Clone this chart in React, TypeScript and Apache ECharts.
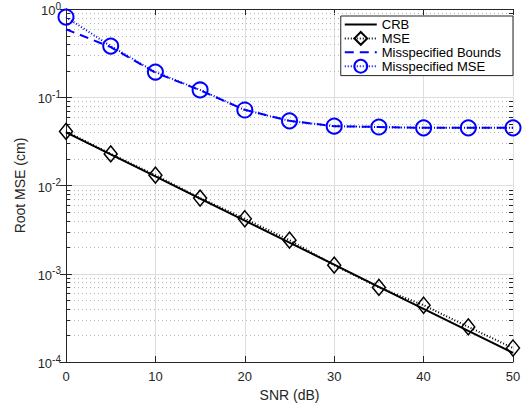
import React, { useEffect, useRef } from "react";
import * as echarts from "echarts";

const snr = [0, 5, 10, 15, 20, 25, 30, 35, 40, 45, 50];
const crb = [0.040, 0.0225, 0.0127, 0.0071, 0.0040, 0.00225, 0.00127, 0.00071, 0.00040, 0.000225, 0.000127];
const mse = [0.041, 0.0228, 0.0131, 0.0072, 0.0042, 0.0024, 0.00125, 0.0007, 0.00044, 0.00025, 0.000144];
const misBounds = [0.59, 0.37, 0.19, 0.12, 0.072, 0.054, 0.047, 0.046, 0.045, 0.045, 0.045];
const misMse = [0.81, 0.38, 0.193, 0.121, 0.0717, 0.054, 0.047, 0.046, 0.045, 0.045, 0.045];
const seriesNames = ["CRB", "MSE", "Misspecified Bounds", "Misspecified MSE"];
const minorValues: number[] = [];
for (const d of [1e-4, 1e-3, 1e-2, 1e-1]) {
  for (let k = 2; k <= 9; k++) minorValues.push(+(k * d).toPrecision(3));
}

const FONT = "Liberation Sans";
const AX = "#262626";

export default function App() {
  const ref = useRef<HTMLDivElement>(null);
  useEffect(() => {
    document.body.style.margin = "0";
    const chart = echarts.init(ref.current!, null, { renderer: "svg" });
    const pts = (ys: number[]) => snr.map((x, i) => [x, ys[i]]);
    const expFmt = (v: number) => `{b|10}{s|${Math.round(Math.log10(v))}}`;
    const hideSym = { itemStyle: { opacity: 0 } };
    chart.setOption({
      animation: false,
      backgroundColor: "#fff",
      textStyle: { fontFamily: FONT },
      grid: { left: 66, right: 13, top: 9, bottom: 45 },
      legend: {
        data: [
          { name: seriesNames[0], ...hideSym },
          { name: seriesNames[1] },
          { name: seriesNames[2], ...hideSym },
          { name: seriesNames[3] },
        ],
        orient: "vertical",
        right: 13,
        top: 16,
        backgroundColor: "#fff",
        borderColor: AX,
        borderWidth: 1,
        borderRadius: 0,
        padding: [2, 12, 2, 3],
        itemWidth: 32,
        itemHeight: 16,
        itemGap: 0,
        textStyle: { fontSize: 13, color: "#000", fontFamily: FONT },
      },
      xAxis: [
        {
          type: "value", min: 0, max: 50, interval: 10, position: "bottom",
          name: "SNR (dB)", nameLocation: "middle", nameGap: 20,
          nameTextStyle: { fontSize: 14, color: AX, fontFamily: FONT },
          axisLine: { show: true, lineStyle: { color: AX, width: 1 } },
          axisTick: { inside: true, length: 6, lineStyle: { color: AX } },
          axisLabel: { fontSize: 13, color: AX, margin: 8, fontFamily: FONT },
          splitLine: { show: true, lineStyle: { color: "#dedede", width: 1 } },
        },
        {
          type: "value", min: 0, max: 50, interval: 10, position: "top",
          axisLine: { show: true, lineStyle: { color: AX, width: 1 } },
          axisTick: { inside: true, length: 6, lineStyle: { color: AX } },
          axisLabel: { show: false },
          splitLine: { show: false },
        },
      ],
      yAxis: [
        {
          type: "log", logBase: 10, min: 1e-4, max: 1, position: "left",
          name: "Root MSE (cm)", nameLocation: "middle", nameGap: 33,
          nameTextStyle: { fontSize: 14, color: AX, fontFamily: FONT },
          axisLine: { show: true, lineStyle: { color: AX, width: 1 } },
          axisTick: { inside: true, length: 6, lineStyle: { color: AX } },
          axisLabel: {
            formatter: expFmt, margin: 5, color: AX,
            rich: {
              b: { fontSize: 13, color: AX, fontFamily: FONT, lineHeight: 16, verticalAlign: "bottom" },
              s: { fontSize: 10, color: AX, fontFamily: FONT, lineHeight: 16, verticalAlign: "top" },
            },
          },
          splitLine: { show: true, lineStyle: { color: "#dedede", width: 1 } },
        },
        {
          type: "log", logBase: 10, min: 1e-4, max: 1, position: "right",
          axisLine: { show: true, lineStyle: { color: AX, width: 1 } },
          axisTick: { inside: true, length: 6, lineStyle: { color: AX } },
          axisLabel: { show: false },
          splitLine: { show: false },
        },
      ],
      series: [
        {
          type: "custom",
          name: "minor",
          silent: true,
          z: 1,
          data: minorValues.map((v) => [0, v]),
          renderItem: (params: any, api: any) => {
            const v = api.value(1);
            const p = api.coord([0, v]);
            const cs = params.coordSys;
            const y = Math.round(p[1]) + 0.5;
            return {
              type: "group",
              children: [
                { type: "line", shape: { x1: cs.x, y1: y, x2: cs.x + cs.width, y2: y }, style: { stroke: "#b5b5b5", lineWidth: 1, lineDash: [1, 3] } },
                { type: "line", shape: { x1: cs.x, y1: y, x2: cs.x + 4, y2: y }, style: { stroke: AX, lineWidth: 1 } },
                { type: "line", shape: { x1: cs.x + cs.width - 4, y1: y, x2: cs.x + cs.width, y2: y }, style: { stroke: AX, lineWidth: 1 } },
              ],
            };
          },
        },
        {
          name: seriesNames[0], type: "line", data: pts(crb), showSymbol: false, symbol: "none", z: 3,
          lineStyle: { color: "#000", width: 2, type: "solid" }, itemStyle: { color: "#000" },
        },
        {
          name: seriesNames[1], type: "line", data: pts(mse), symbol: "diamond", symbolSize: [13, 16], z: 4,
          lineStyle: { color: "#000", width: 2, type: [1, 2] },
          itemStyle: { color: "rgba(255,255,255,0)", borderColor: "#000", borderWidth: 1.5 },
        },
        {
          name: seriesNames[2], type: "line", data: pts(misBounds), symbol: "none", z: 3,
          lineStyle: { color: "#0000ff", width: 2, type: [9, 6] }, itemStyle: { color: "#0000ff" },
        },
        {
          name: seriesNames[3], type: "line", data: pts(misMse), symbol: "circle", symbolSize: 15, z: 4,
          lineStyle: { color: "#0000ff", width: 2, type: [1, 2] },
          itemStyle: { color: "rgba(255,255,255,0)", borderColor: "#0000ff", borderWidth: 2 },
        },
      ],
    });
    return () => chart.dispose();
  }, []);
  return <div ref={ref} style={{ width: 526, height: 407 }} />;
}
